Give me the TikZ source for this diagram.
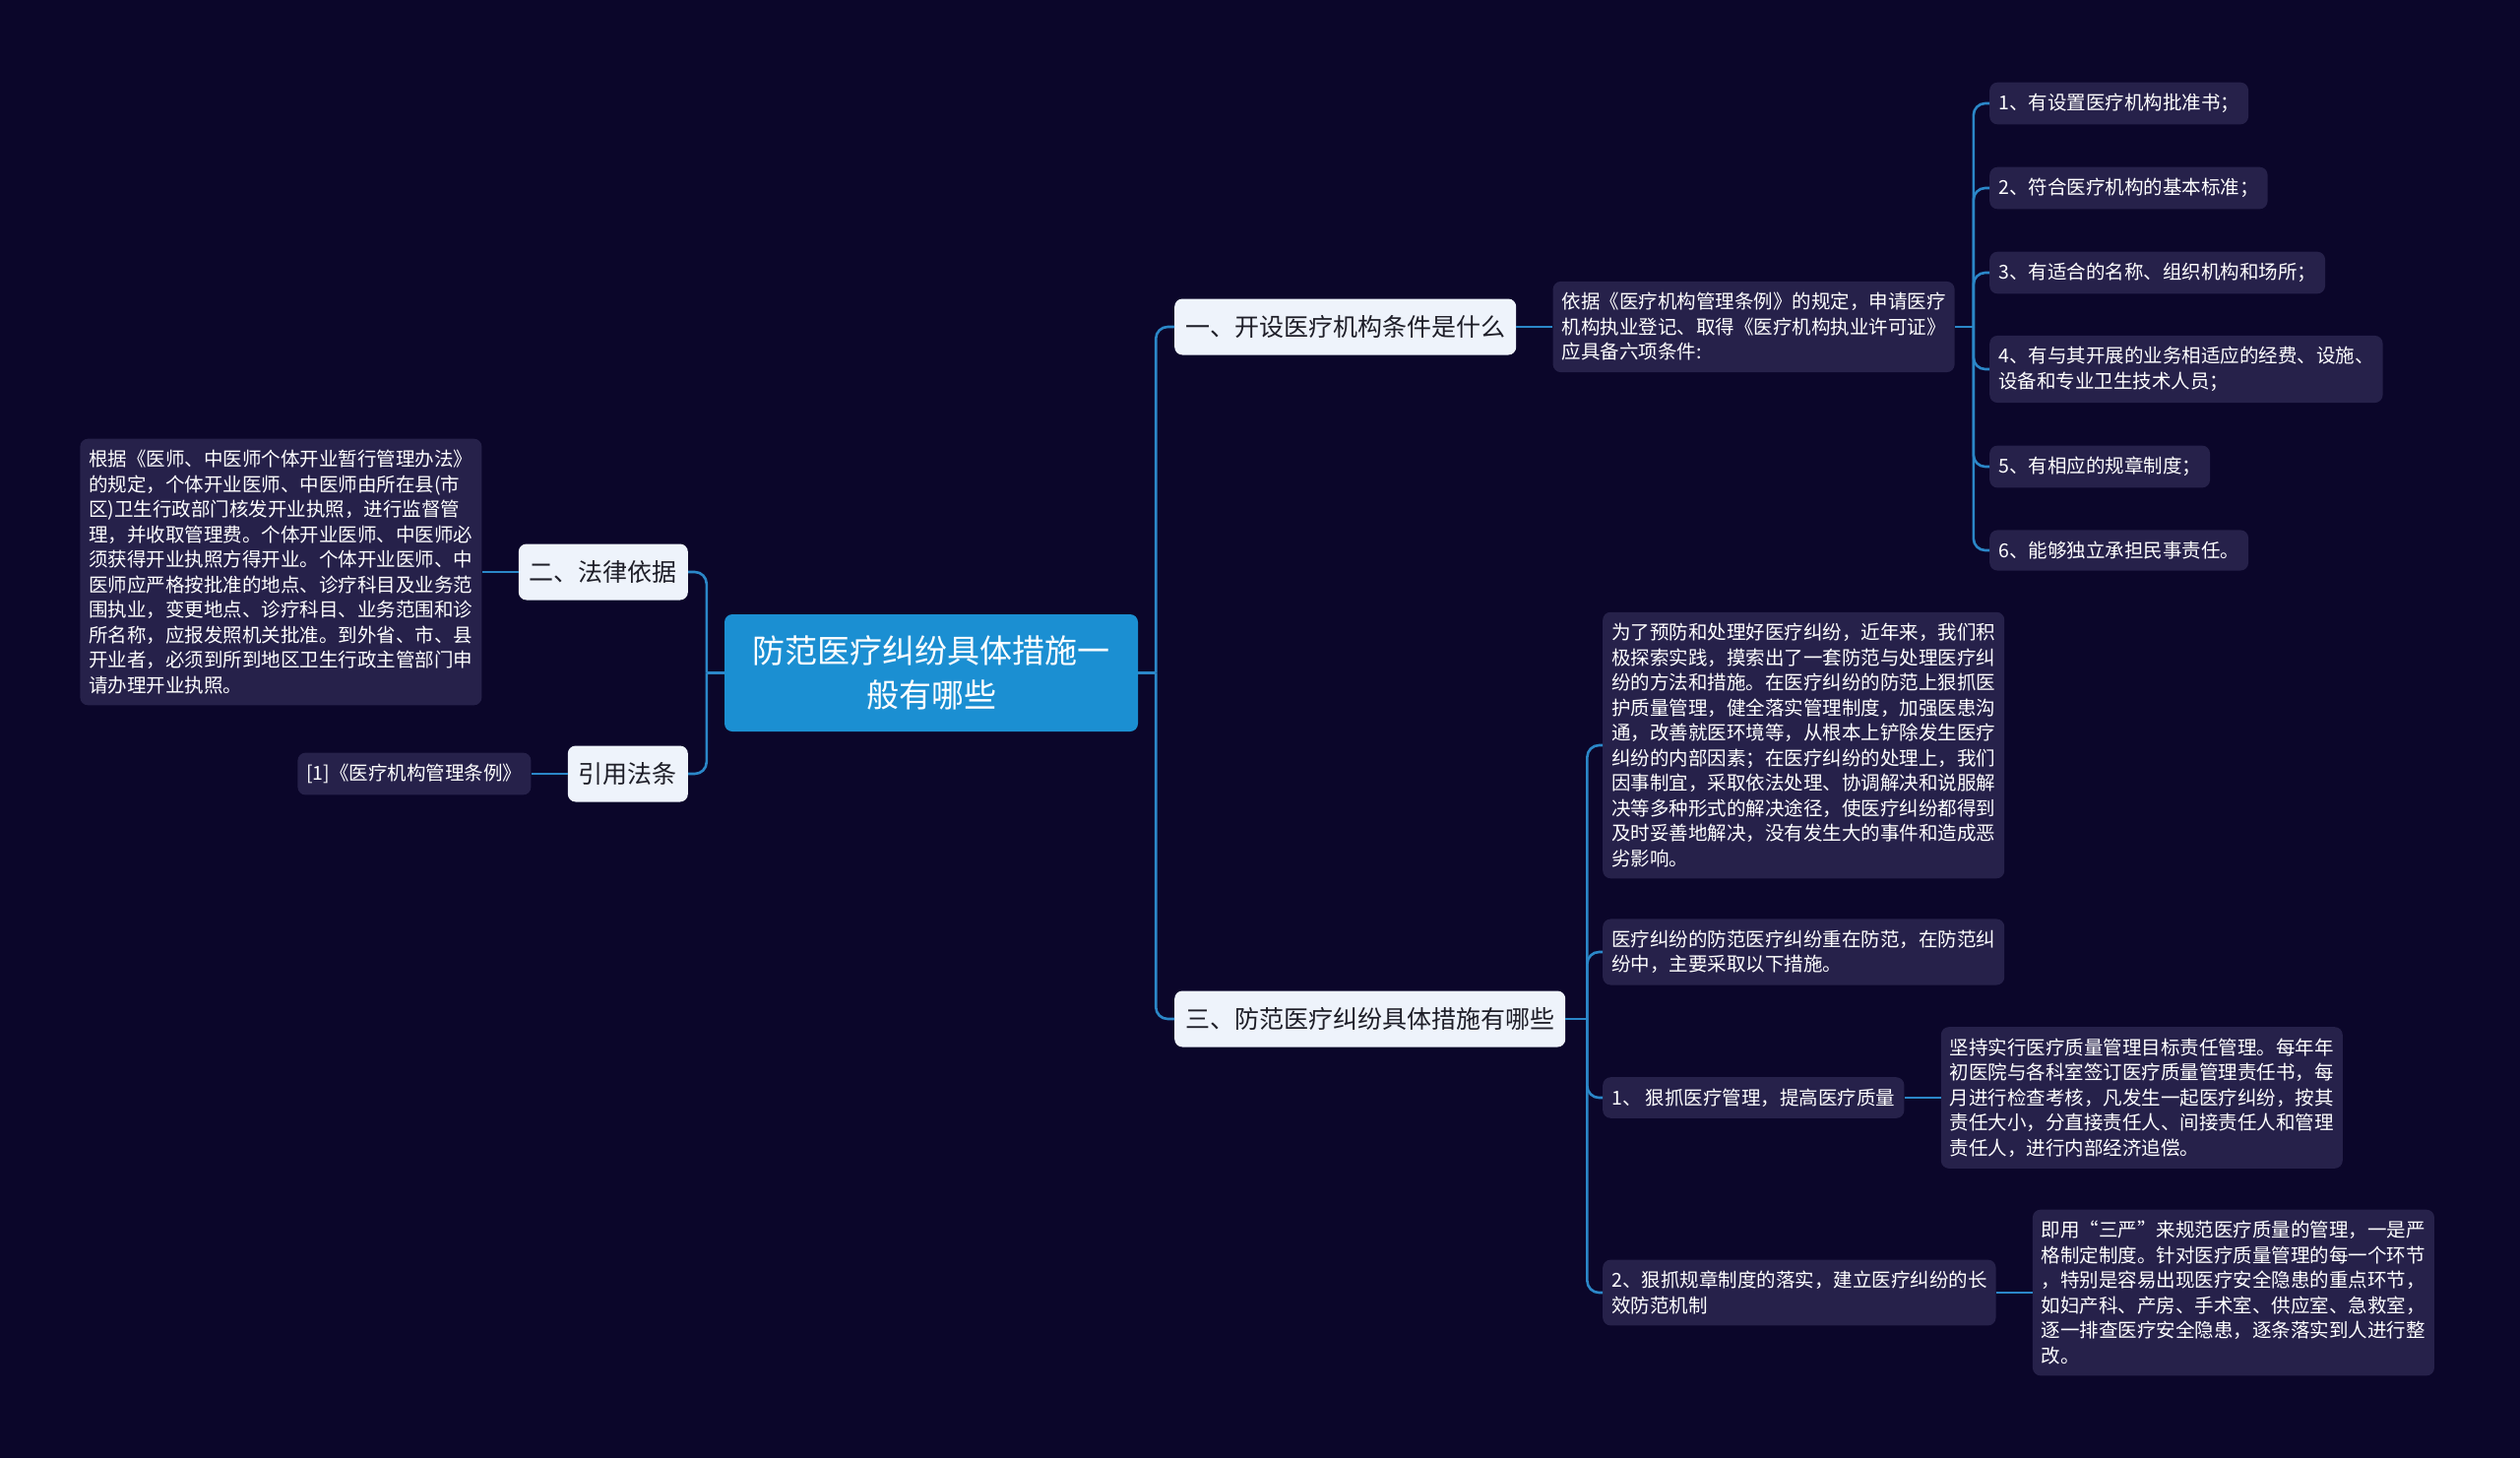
\documentclass[tikz,border=0pt]{standalone}
\usepackage{fontspec}
\setmainfont{Noto Sans CJK SC}
\usepackage{xcolor}
\usepackage{tikz}
\usetikzlibrary{positioning}
\definecolor{bgnavy}{RGB}{11,6,42}
\definecolor{descfill}{RGB}{38,33,74}
\definecolor{topicfill}{RGB}{238,243,251}
\definecolor{topictext}{RGB}{30,30,40}
\definecolor{hubfill}{RGB}{27,143,210}
\definecolor{linkblue}{RGB}{43,135,200}
\tikzset{
  link/.style={line width=2.6pt, draw=linkblue, rounded corners=12pt},
  every node/.style={anchor=center}
}
\begin{document}
\begin{tikzpicture}[
  x=1pt, y=-1pt,
  hub/.style={fill=hubfill, rounded corners=8pt, text=white, align=center, minimum width=420pt, minimum height=119pt, font=\fontsize{33}{45}\selectfont},
  topic/.style={fill=topicfill, rounded corners=8pt, text=topictext, inner xsep=11pt, minimum height=57pt, font=\fontsize{25}{30}\selectfont},
  descbox/.style={fill=descfill, rounded corners=8pt, text=white, align=left, inner xsep=9pt, inner ysep=11.5pt, font=\fontsize{19.5}{25.5}\selectfont}
]
\fill[bgnavy] (0,0) rectangle (2560,1481);

\node[hub] (hub) at (946,683.5) {防范医疗纠纷具体措施一\\般有哪些};

\node[topic, anchor=west] (setup) at (1193,332) {一、开设医疗机构条件是什么};
\node[topic, anchor=west] (measures) at (1193,1035) {三、防范医疗纠纷具体措施有哪些};
\node[topic, anchor=east] (basis) at (699,581) {二、法律依据};
\node[topic, anchor=east] (cite) at (699,786) {引用法条};

\node[descbox, right=37pt of setup] (setupDesc) {依据《医疗机构管理条例》的规定，申请医疗\\机构执业登记、取得《医疗机构执业许可证》\\应具备六项条件:};
\node[descbox, anchor=west] (cond1) at (2021,105) {1、有设置医疗机构批准书；};
\node[descbox, anchor=west] (cond2) at (2021,191) {2、符合医疗机构的基本标准；};
\node[descbox, anchor=west] (cond3) at (2021,277) {3、有适合的名称、组织机构和场所；};
\node[descbox, anchor=west] (cond4) at (2021,375) {4、有与其开展的业务相适应的经费、设施、\\设备和专业卫生技术人员；};
\node[descbox, anchor=west] (cond5) at (2021,474) {5、有相应的规章制度；};
\node[descbox, anchor=west] (cond6) at (2021,559) {6、能够独立承担民事责任。};

\node[descbox, left=37pt of basis] (basisDesc) {根据《医师、中医师个体开业暂行管理办法》\\的规定，个体开业医师、中医师由所在县(市\\区)卫生行政部门核发开业执照，进行监督管\\理，并收取管理费。个体开业医师、中医师必\\须获得开业执照方得开业。个体开业医师、中\\医师应严格按批准的地点、诊疗科目及业务范\\围执业，变更地点、诊疗科目、业务范围和诊\\所名称，应报发照机关批准。到外省、市、县\\开业者，必须到所到地区卫生行政主管部门申\\请办理开业执照。};
\node[descbox, left=37pt of cite] (citeDesc) {[1]《医疗机构管理条例》};

\node[descbox, anchor=west] (practice) at (1628,757) {为了预防和处理好医疗纠纷，近年来，我们积\\极探索实践，摸索出了一套防范与处理医疗纠\\纷的方法和措施。在医疗纠纷的防范上狠抓医\\护质量管理，健全落实管理制度，加强医患沟\\通，改善就医环境等，从根本上铲除发生医疗\\纠纷的内部因素；在医疗纠纷的处理上，我们\\因事制宜，采取依法处理、协调解决和说服解\\决等多种形式的解决途径，使医疗纠纷都得到\\及时妥善地解决，没有发生大的事件和造成恶\\劣影响。};
\node[descbox, anchor=west] (focus) at (1628,967) {医疗纠纷的防范医疗纠纷重在防范，在防范纠\\纷中，主要采取以下措施。};
\node[descbox, anchor=west] (quality) at (1628,1115) {1、 狠抓医疗管理，提高医疗质量};
\node[descbox, right=37pt of quality] (qualityDesc) {坚持实行医疗质量管理目标责任管理。每年年\\初医院与各科室签订医疗质量管理责任书，每\\月进行检查考核，凡发生一起医疗纠纷，按其\\责任大小，分直接责任人、间接责任人和管理\\责任人，进行内部经济追偿。};
\node[descbox, anchor=west] (rules) at (1628,1313) {2、狠抓规章制度的落实，建立医疗纠纷的长\\效防范机制};
\node[descbox, right=37pt of rules] (rulesDesc) {即用“三严”来规范医疗质量的管理，一是严\\格制定制度。针对医疗质量管理的每一个环节\\，特别是容易出现医疗安全隐患的重点环节，\\如妇产科、产房、手术室、供应室、急救室，\\逐一排查医疗安全隐患，逐条落实到人进行整\\改。};

\coordinate (rTrunk) at ([xshift=18pt]hub.east);
\coordinate (lTrunk) at ([xshift=-18pt]hub.west);
\coordinate (setupTrunk) at ([xshift=19pt]setupDesc.east);
\coordinate (measTrunk) at ([xshift=22pt]measures.east);

\draw[link] (hub.east) -- (rTrunk);
\draw[link] (rTrunk) |- (setup.west);
\draw[link] (rTrunk) |- (measures.west);
\draw[link] (hub.west) -- (lTrunk);
\draw[link] (lTrunk) |- (basis.east);
\draw[link] (lTrunk) |- (cite.east);

\draw[link] (setup.east) -- (setupDesc.west);
\draw[link] (setupDesc.east) -- (setupTrunk);
\foreach \c in {cond1,cond2,cond3,cond4,cond5,cond6}
  \draw[link] (setupTrunk) |- (\c.west);

\draw[link] (basis.west) -- (basisDesc.east);
\draw[link] (cite.west) -- (citeDesc.east);

\draw[link] (measures.east) -- (measTrunk);
\foreach \c in {practice,focus,quality,rules}
  \draw[link] (measTrunk) |- (\c.west);
\draw[link] (quality.east) -- (qualityDesc.west);
\draw[link] (rules.east) -- (rulesDesc.west);
\end{tikzpicture}
\end{document}
